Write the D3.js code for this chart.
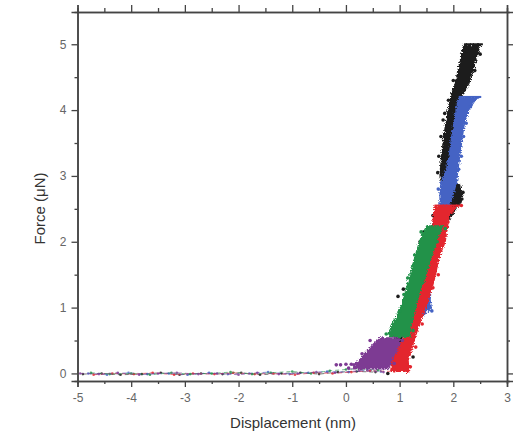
<!DOCTYPE html>
<html>
<head>
<meta charset="utf-8">
<script src="https://cdn.jsdelivr.net/npm/d3@7"></script>
<style>
  body { margin: 0; background: #fff; }
  svg { display: block; font-family: "Liberation Sans", Arial, sans-serif; }
  .tick text { fill: #666; font-size: 12px; }
  .axis path, .axis line { stroke: #444; }
  .axis path { stroke-width: 1.5; }
</style>
</head>
<body>
<svg id="chart" width="522" height="434"></svg>
<script>
// axis ranges and ticks
const X_DOMAIN = [-5, 3];
const Y_DOMAIN = [-0.115, 5.49];
const xMajor = [-5, -4, -3, -2, -1, 0, 1, 2, 3];
const xMinor = [-4.5, -3.5, -2.5, -1.5, -0.5, 0.5, 1.5, 2.5];
const yMajor = [0, 1, 2, 3, 4, 5];
const yMinor = [0.5, 1.5, 2.5, 3.5, 4.5];

// loading bands: [force, x left, x right]
const bandBlack = [
  [0.4, 0.85, 1.0], [0.9, 1.02, 1.2], [1.4, 1.18, 1.36], [1.9, 1.36, 1.55],
  [2.3, 1.62, 1.9], [2.55, 1.92, 2.12], [2.7, 1.88, 2.17], [2.85, 1.78, 2.15],
  [3.0, 1.74, 1.95], [3.3, 1.77, 1.95], [3.6, 1.81, 2.0], [3.8, 1.85, 2.04],
  [4.0, 1.89, 2.08], [4.2, 1.94, 2.16], [4.4, 2.02, 2.3], [4.6, 2.08, 2.38],
  [4.8, 2.13, 2.44], [4.95, 2.17, 2.5], [5.0, 2.2, 2.55]
];
const bandBlue = [
  [0.88, 1.36, 1.46], [1.0, 1.38, 1.6], [1.12, 1.42, 1.58], [1.3, 1.46, 1.6],
  [2.0, 1.6, 1.76], [2.5, 1.74, 1.92], [2.75, 1.74, 2.02], [2.9, 1.76, 2.07],
  [3.1, 1.86, 2.1], [3.3, 1.91, 2.13], [3.55, 1.95, 2.17], [3.8, 2.0, 2.22],
  [4.0, 2.04, 2.3], [4.15, 2.08, 2.42], [4.2, 2.1, 2.52]
];
const bandRed = [
  [0.02, 0.82, 1.18], [0.2, 0.85, 1.17], [0.4, 0.98, 1.25], [0.6, 1.1, 1.32],
  [0.8, 1.2, 1.4], [1.0, 1.28, 1.5], [1.25, 1.36, 1.6], [1.5, 1.43, 1.68],
  [1.75, 1.5, 1.74], [2.0, 1.56, 1.86], [2.2, 1.6, 1.9], [2.4, 1.62, 1.93],
  [2.55, 1.65, 2.12]
];
const bandGreen = [
  [0.55, 0.78, 1.2], [0.7, 0.82, 1.22], [0.9, 0.95, 1.28], [1.1, 1.05, 1.34],
  [1.3, 1.12, 1.42], [1.5, 1.18, 1.5], [1.7, 1.25, 1.58], [1.9, 1.32, 1.66],
  [2.1, 1.4, 1.74], [2.25, 1.5, 1.82]
];
const bandPurple = [
  [0.06, 0.1, 0.8], [0.15, 0.17, 0.84], [0.25, 0.27, 0.9], [0.35, 0.39, 0.96],
  [0.45, 0.5, 1.02], [0.55, 0.64, 1.0]
];

// scattered points: [x, force]
const dotsBlack = [
  [0.97, 1.17], [1.07, 1.28], [1.38, 2.0], [1.45, 2.15], [1.2, 0.6], [1.25, 0.25],
  [1.71, 3.05], [1.73, 3.3], [1.77, 3.6], [1.81, 3.85], [2.25, 4.9], [2.5, 4.85],
  [2.4, 4.6], [2.2, 4.3], [2.16, 2.65], [2.18, 2.75], [1.91, 4.15], [2.0, 4.45],
  [0.78, 0.0], [1.62, 2.4], [1.3, 1.65], [2.12, 2.6], [1.84, 3.95]
];
const dotsBlue = [
  [2.19, 3.6], [2.24, 3.8], [2.32, 4.05], [1.72, 2.8], [2.1, 3.1], [1.55, 1.0],
  [1.6, 0.95], [1.43, 0.9], [1.5, 1.1], [2.15, 3.3]
];
const dotsRed = [
  [1.72, 1.5], [1.8, 1.95], [1.9, 2.3], [2.15, 2.55], [1.2, 0.1], [1.3, 0.4],
  [1.1, 0.05], [1.62, 1.3], [1.42, 0.75]
];
const dotsGreen = [
  [1.0, 0.95], [1.08, 1.2], [1.15, 1.45], [0.75, 0.6], [1.28, 1.8], [1.4, 2.15],
  [1.85, 2.2], [1.7, 2.0], [1.25, 0.65]
];
const dotsPurple = [
  [0.05, 0.08], [0.15, 0.13], [0.45, 0.5], [1.05, 0.5], [0.9, 0.15], [0.3, 0.3],
  [-0.1, 0.13], [0.0, 0.14], [0.1, 0.14], [-0.18, 0.13]
];

// baseline (no contact) points: [x, force]
const baseBlack = [[-4.9,-0.01],[-4.55,0.0],[-4.2,-0.02],[-3.8,-0.01],[-3.45,0.01],[-3.1,-0.02],[-2.7,0.0],[-2.3,-0.01],[-1.95,0.01],[-1.6,-0.02],[-1.2,0.0],[-0.85,0.01],[-0.5,-0.01],[-0.15,0.02],[0.2,0.03],[0.55,0.02]];
const baseBlue = [[-4.8,0.0],[-4.45,-0.02],[-4.05,0.01],[-3.7,-0.01],[-3.3,0.0],[-2.95,-0.02],[-2.55,0.01],[-2.2,-0.01],[-1.8,0.0],[-1.45,0.02],[-1.05,-0.01],[-0.7,0.01],[-0.35,0.03],[0.05,0.02],[0.4,0.05],[0.65,0.03]];
const baseRed = [[-4.7,-0.02],[-4.35,0.0],[-3.95,-0.01],[-3.6,0.01],[-3.2,-0.02],[-2.85,0.0],[-2.45,-0.01],[-2.1,0.01],[-1.7,-0.01],[-1.35,0.0],[-0.95,-0.02],[-0.6,0.01],[-0.25,0.0],[0.1,0.02],[0.45,0.04],[0.9,0.03]];
const baseGreen = [[-4.75,0.01],[-4.4,-0.01],[-4.0,0.0],[-3.65,-0.02],[-3.25,0.01],[-2.9,-0.01],[-2.5,0.0],[-2.15,0.02],[-1.75,-0.01],[-1.4,0.01],[-1.0,0.03],[-0.65,0.0],[-0.3,0.04],[0.0,0.06],[0.3,0.07],[0.6,0.05]];
const basePurple = [[-4.95,0.0],[-4.6,-0.01],[-4.25,0.01],[-3.85,-0.02],[-3.5,0.0],[-3.15,0.01],[-2.75,-0.01],[-2.4,0.0],[-2.0,-0.02],[-1.65,0.01],[-1.25,-0.01],[-0.9,0.0],[-0.55,0.02],[-0.2,0.01],[0.25,0.04],[0.7,0.02]];

const SERIES = [
  { color: "#1c1c1c", band: bandBlack,  dots: dotsBlack,  base: baseBlack },
  { color: "#4463c4", band: bandBlue,   dots: dotsBlue,   base: baseBlue },
  { color: "#e3262f", band: bandRed,    dots: dotsRed,    base: baseRed },
  { color: "#21924a", band: bandGreen,  dots: dotsGreen,  base: baseGreen },
  { color: "#7d3a93", band: bandPurple, dots: dotsPurple, base: basePurple },
];

const svg = d3.select("#chart");
const plot = { left: 77.5, right: 507, top: 12, bottom: 381 };

const x = d3.scaleLinear().domain(X_DOMAIN).range([plot.left, plot.right]);
const y = d3.scaleLinear().domain(Y_DOMAIN).range([plot.bottom, plot.top]);

// rough, speckled edges for the point clouds
const defs = svg.append("defs");
const filt = defs.append("filter").attr("id", "rough")
  .attr("x", "-20%").attr("y", "-5%").attr("width", "140%").attr("height", "110%");
filt.append("feTurbulence").attr("type", "fractalNoise")
  .attr("baseFrequency", 1.8).attr("numOctaves", 2).attr("seed", 11).attr("result", "noise");
filt.append("feDisplacementMap").attr("in", "SourceGraphic").attr("in2", "noise")
  .attr("scale", 5).attr("xChannelSelector", "R").attr("yChannelSelector", "G");

const area = d3.area()
  .y((d) => y(d[0]))
  .x0((d) => x(d[1]))
  .x1((d) => x(d[2]));

const line = d3.line()
  .x((d) => x(d[0]))
  .y((d) => y(d[1]));

const dataLayer = svg.append("g");

SERIES.forEach((s) => {
  const g = dataLayer.append("g");
  g.append("path")
    .datum(s.base)
    .attr("d", line)
    .attr("fill", "none")
    .attr("stroke", s.color)
    .attr("stroke-width", 1)
    .attr("stroke-dasharray", "4 3")
    .attr("opacity", 0.6);
  g.append("g").selectAll("circle")
    .data(s.base)
    .join("circle")
    .attr("cx", (d) => x(d[0]))
    .attr("cy", (d) => y(d[1]))
    .attr("r", 1.3)
    .attr("fill", s.color)
    .attr("opacity", 0.8);
  g.append("path")
    .datum(s.band)
    .attr("d", area)
    .attr("fill", s.color)
    .attr("filter", "url(#rough)");
  g.append("g").selectAll("circle")
    .data(s.dots)
    .join("circle")
    .attr("cx", (d) => x(d[0]))
    .attr("cy", (d) => y(d[1]))
    .attr("r", 1.8)
    .attr("fill", s.color);
});

// flat hold segments on top of the three highest curves
[[bandBlack, "#1c1c1c"], [bandBlue, "#4463c4"], [bandRed, "#e3262f"]].forEach(([b, c]) => {
  const top = b[b.length - 1];
  dataLayer.append("line")
    .attr("x1", x(top[1])).attr("x2", x(top[2]))
    .attr("y1", y(top[0])).attr("y2", y(top[0]))
    .attr("stroke", c).attr("stroke-width", 2);
});

// axes
const fmt = (d) => String(d);

function addAxis(gen, transform, labels) {
  const g = svg.append("g").attr("class", "axis").attr("transform", transform).call(gen);
  if (!labels) g.selectAll("text").remove();
  return g;
}

addAxis(d3.axisBottom(x).tickValues(xMajor).tickSize(6).tickPadding(6).tickFormat(fmt),
  `translate(0,${plot.bottom})`, true);
addAxis(d3.axisBottom(x).tickValues(xMinor).tickSize(3), `translate(0,${plot.bottom})`, false);
addAxis(d3.axisBottom(x).tickValues(xMajor).tickSize(-7), `translate(0,${plot.top})`, false);
addAxis(d3.axisBottom(x).tickValues(xMinor).tickSize(-4), `translate(0,${plot.top})`, false);

addAxis(d3.axisLeft(y).tickValues(yMajor).tickSize(6).tickPadding(5).tickFormat(fmt),
  `translate(${plot.left},0)`, true);
addAxis(d3.axisLeft(y).tickValues(yMinor).tickSize(3), `translate(${plot.left},0)`, false);
addAxis(d3.axisLeft(y).tickValues(yMajor).tickSize(-6), `translate(${plot.right},0)`, false);
addAxis(d3.axisLeft(y).tickValues(yMinor).tickSize(-3), `translate(${plot.right},0)`, false);

svg.selectAll(".axis .tick line").attr("stroke-width", 1.3);

// axis titles
svg.append("text")
  .attr("x", 293).attr("y", 428)
  .attr("text-anchor", "middle")
  .attr("font-size", 15).attr("fill", "#333")
  .text("Displacement (nm)");

svg.append("text")
  .attr("transform", `translate(45,${(plot.top + plot.bottom) / 2 + 12}) rotate(-90)`)
  .attr("text-anchor", "middle")
  .attr("font-size", 15).attr("fill", "#333")
  .text("Force (μN)");
</script>
</body>
</html>
